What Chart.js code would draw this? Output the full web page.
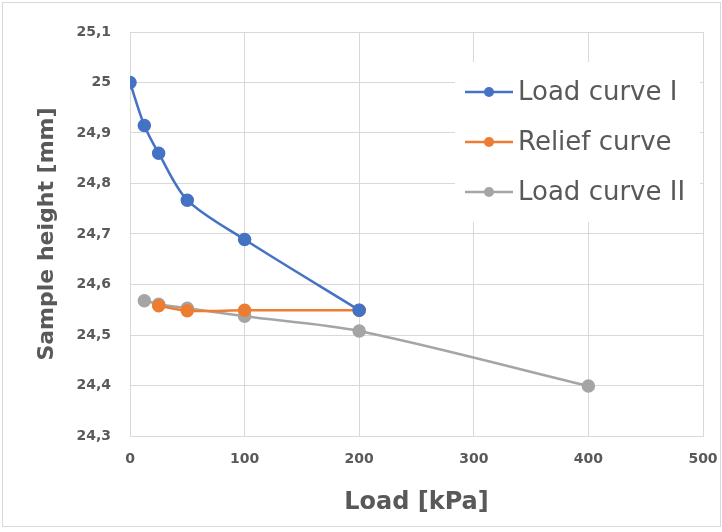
<!DOCTYPE html>
<html>
<head>
<meta charset="utf-8">
<script src="https://cdn.jsdelivr.net/npm/chart.js@4"></script>
<style>
  html, body { margin: 0; padding: 0; background: #fff; }
  #wrap {
    position: relative;
    width: 722px;
    height: 532px;
  }
  #frame {
    position: absolute;
    left: 2px; top: 2px; width: 717px; height: 523px;
    border: 1px solid #d9d9d9;
    pointer-events: none;
  }
</style>
</head>
<body>
<div id="wrap">
  <canvas id="chart" width="722" height="532"></canvas>
  <div id="frame"></div>
</div>
<script>
// Load in kPa and sample height in mm
const loadI = [0, 12.5, 25, 50, 100, 200];
const heightI = [25.0, 24.915, 24.86, 24.767, 24.689, 24.549];

const loadRelief = [200, 100, 50, 25];
const heightRelief = [24.549, 24.549, 24.548, 24.558];

const loadII = [12.5, 25, 50, 100, 200, 400];
const heightII = [24.568, 24.561, 24.553, 24.537, 24.508, 24.399];

const SERIES_NAMES = ["Load curve I", "Relief curve", "Load curve II"];
const SERIES_COLORS = ["#4472C4", "#ED7D31", "#A5A5A5"];

const TEXT = "#595959";
const GRID = "#d9d9d9";
const FONT = "'DejaVu Sans', sans-serif";

function toPoints(xs, ys) {
  return xs.map((x, i) => ({ x: x, y: ys[i] }));
}

function makeSet(i, xs, ys) {
  return {
    label: SERIES_NAMES[i],
    data: toPoints(xs, ys),
    borderColor: SERIES_COLORS[i],
    backgroundColor: SERIES_COLORS[i],
    borderWidth: 2.5,
    pointRadius: 5.5,
    pointHoverRadius: 5.5,
    tension: 0.3,
  };
}

// Legend drawn inside the plot, top right, on a white box
const insideLegend = {
  id: "insideLegend",
  afterDraw(chart) {
    const ctx = chart.ctx;
    ctx.save();
    ctx.fillStyle = "#fff";
    ctx.fillRect(455, 62, 245, 160);
    ctx.font = "26px " + FONT;
    ctx.textBaseline = "middle";
    chart.data.datasets.forEach((ds, i) => {
      const y = 92 + i * 50;
      ctx.strokeStyle = ds.borderColor;
      ctx.lineWidth = 2.5;
      ctx.beginPath();
      ctx.moveTo(465, y);
      ctx.lineTo(513, y);
      ctx.stroke();
      ctx.fillStyle = ds.borderColor;
      ctx.beginPath();
      ctx.arc(489, y, 5, 0, Math.PI * 2);
      ctx.fill();
      ctx.fillStyle = TEXT;
      ctx.fillText(ds.label, 518, y + 1);
    });
    ctx.restore();
  },
};

new Chart(document.getElementById("chart"), {
  type: "line",
  data: {
    datasets: [
      makeSet(0, loadI, heightI),
      makeSet(1, loadRelief, heightRelief),
      makeSet(2, loadII, heightII),
    ],
  },
  options: {
    responsive: false,
    animation: false,
    layout: { padding: { left: 0, top: 32, right: 19, bottom: 0 } },
    plugins: {
      legend: { display: false },
      tooltip: { enabled: false },
    },
    scales: {
      x: {
        type: "linear",
        min: 0,
        max: 500,
        ticks: {
          stepSize: 100,
          padding: 15,
          color: TEXT,
          font: { family: FONT, size: 14, weight: "bold" },
        },
        grid: { color: GRID, lineWidth: 1, drawTicks: false },
        border: { color: GRID },
        title: {
          display: true,
          text: "Load [kPa]",
          color: TEXT,
          padding: { top: 0, bottom: 15 },
          font: { family: FONT, size: 24, weight: "bold" },
        },
        afterFit: (scale) => {
          scale.height = 96;
          // let the last tick label hang past the plot edge
          scale.paddingLeft = 0;
          scale.paddingRight = 0;
        },
      },
      y: {
        min: 24.3,
        max: 25.1,
        ticks: {
          stepSize: 0.1,
          padding: 19,
          color: TEXT,
          font: { family: FONT, size: 14, weight: "bold" },
          callback: (v) => String(Number(v.toFixed(1))).replace(".", ","),
        },
        grid: { color: GRID, lineWidth: 1, drawTicks: false },
        border: { color: GRID },
        title: {
          display: true,
          text: "Sample height [mm]",
          color: TEXT,
          padding: { top: 34, bottom: 0 },
          font: { family: FONT, size: 22, weight: "bold" },
        },
        afterFit: (scale) => {
          scale.width = 130;
          scale.paddingTop = 0;
          scale.paddingBottom = 0;
        },
      },
    },
  },
  plugins: [insideLegend],
});
</script>
</body>
</html>
